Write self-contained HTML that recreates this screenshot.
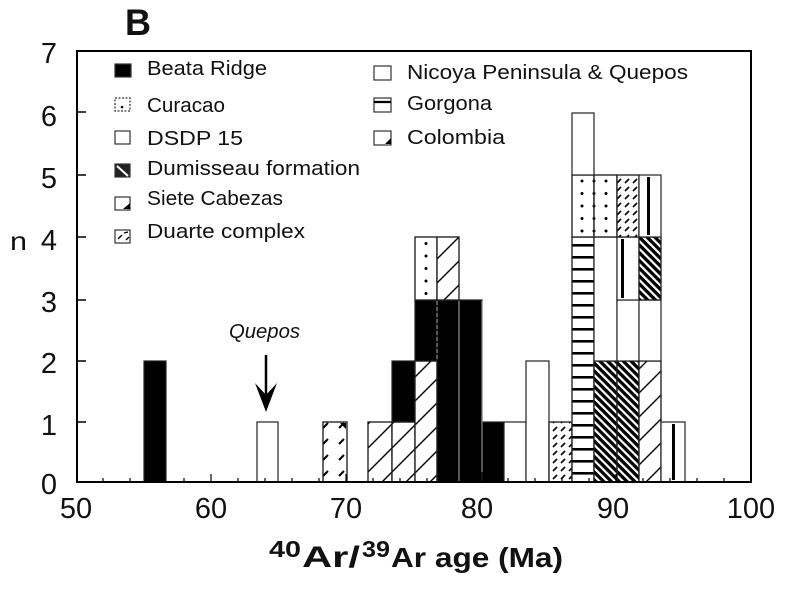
<!DOCTYPE html>
<html><head><meta charset="utf-8"><style>
html,body{margin:0;padding:0;background:#fff;}
svg{display:block;}
text{font-family:"Liberation Sans",Arial,sans-serif;fill:#111;}
</style></head><body>
<svg width="800" height="589" viewBox="0 0 800 589" xmlns="http://www.w3.org/2000/svg">
<defs>
<pattern id="siete" patternUnits="userSpaceOnUse" width="24" height="24">
<path d="M0,24 L24,0 M-6,6 L6,-6 M18,30 L30,18" stroke="#000" stroke-width="1.4"/>
</pattern>
<pattern id="duarte" patternUnits="userSpaceOnUse" width="16" height="16">
<path d="M3,12 L8,7" stroke="#000" stroke-width="2"/>
</pattern>
<pattern id="colom" patternUnits="userSpaceOnUse" width="8" height="8">
<path d="M1,7 L5,3" stroke="#000" stroke-width="1.6"/>
</pattern>
<pattern id="cur" patternUnits="userSpaceOnUse" width="12" height="12.5">
<circle cx="6" cy="6" r="1.5" fill="#000"/>
</pattern>
<pattern id="gor" patternUnits="userSpaceOnUse" width="10" height="12">
<rect x="0" y="4" width="10" height="2.6" fill="#000"/>
</pattern>
<pattern id="dum" patternUnits="userSpaceOnUse" width="5.5" height="5.5" patternTransform="rotate(45)">
<rect x="0" y="0" width="5.5" height="3.3" fill="#000"/>
</pattern>
</defs>

<text x="125" y="35" font-size="37" font-weight="bold" textLength="26" lengthAdjust="spacingAndGlyphs">B</text>

<g stroke="#222" stroke-width="1.2">
<rect x="144" y="361" width="22" height="121" fill="#000"/>
<rect x="257" y="422" width="21" height="60" fill="#fff"/>
<rect x="323" y="422" width="24" height="60" fill="#fff"/>
<rect x="323" y="422" width="24" height="60" fill="url(#duarte)"/>
<rect x="368" y="422" width="24" height="60" fill="#fff"/>
<rect x="368" y="422" width="24" height="60" fill="url(#siete)"/>
<rect x="392" y="422" width="23" height="60" fill="#fff"/>
<rect x="392" y="422" width="23" height="60" fill="url(#siete)"/>
<rect x="392" y="361" width="23" height="61" fill="#000"/>
<rect x="415" y="361" width="22" height="121" fill="#fff"/>
<rect x="415" y="361" width="22" height="121" fill="url(#siete)"/>
<rect x="415" y="300" width="22" height="61" fill="#000"/>
<rect x="415" y="237" width="22" height="63" fill="#fff"/>
<rect x="415" y="237" width="22" height="63" fill="url(#cur)"/>
<rect x="437" y="300" width="22" height="182" fill="#000"/>
<rect x="437" y="237" width="22" height="63" fill="#fff"/>
<rect x="437" y="237" width="22" height="63" fill="url(#siete)"/>
<rect x="459" y="300" width="23" height="182" fill="#000"/>
<rect x="482" y="422" width="22" height="60" fill="#000"/>
<rect x="504" y="422" width="22" height="60" fill="#fff"/>
<rect x="526" y="361" width="23" height="121" fill="#fff"/>
<rect x="549" y="422" width="23" height="60" fill="#fff"/>
<rect x="549" y="422" width="23" height="60" fill="url(#colom)"/>
<rect x="572" y="237" width="22" height="245" fill="#fff"/>
<rect x="572" y="237" width="22" height="245" fill="url(#gor)"/>
<rect x="572" y="175" width="22" height="62" fill="#fff"/>
<rect x="572" y="175" width="22" height="62" fill="url(#cur)"/>
<rect x="572" y="113" width="22" height="62" fill="#fff"/>
<rect x="594" y="361" width="23" height="121" fill="#fff"/>
<rect x="594" y="361" width="23" height="121" fill="url(#dum)"/>
<rect x="594" y="237" width="23" height="124" fill="#fff"/>
<rect x="594" y="175" width="23" height="62" fill="#fff"/>
<rect x="594" y="175" width="23" height="62" fill="url(#cur)"/>
<rect x="617" y="361" width="22" height="121" fill="#fff"/>
<rect x="617" y="361" width="22" height="121" fill="url(#dum)"/>
<rect x="617" y="300" width="22" height="61" fill="#fff"/>
<rect x="617" y="237" width="22" height="63" fill="#fff"/>
<rect x="617" y="175" width="22" height="62" fill="#fff"/>
<rect x="617" y="175" width="22" height="62" fill="url(#colom)"/>
<rect x="639" y="361" width="22" height="121" fill="#fff"/>
<rect x="639" y="361" width="22" height="121" fill="url(#siete)"/>
<rect x="639" y="300" width="22" height="61" fill="#fff"/>
<rect x="639" y="237" width="22" height="63" fill="#fff"/>
<rect x="639" y="237" width="22" height="63" fill="url(#dum)"/>
<rect x="639" y="175" width="22" height="62" fill="#fff"/>
<rect x="661" y="422" width="24" height="60" fill="#fff"/>
</g>
<g stroke="#000" stroke-width="3">
<line x1="622.5" y1="239" x2="622.5" y2="298"/>
<line x1="648.5" y1="177" x2="648.5" y2="235"/>
<line x1="673.5" y1="424" x2="673.5" y2="480"/>
</g>
<g stroke="#8a8a8a" stroke-width="1.2">
<line x1="437" y1="301" x2="437" y2="361" stroke-dasharray="4,2"/>
<line x1="459" y1="301" x2="459" y2="481"/>
<line x1="482" y1="301" x2="482" y2="472"/>
</g>
<path d="M340,423 L346,423 L346,429 Z" fill="#000"/>

<rect x="77" y="51" width="674" height="431" fill="none" stroke="#000" stroke-width="2"/>

<g stroke="#000" stroke-width="1.5">
<line x1="77" y1="422" x2="86" y2="422"/>
<line x1="77" y1="361" x2="86" y2="361"/>
<line x1="77" y1="300" x2="86" y2="300"/>
<line x1="77" y1="237" x2="86" y2="237"/>
<line x1="77" y1="175" x2="86" y2="175"/>
<line x1="77" y1="112" x2="86" y2="112"/>
</g>
<g stroke="#000" stroke-width="1.2">
<path d="M103,482v-4M130,482v-4M157,482v-4M184,482v-4M238,482v-4M265,482v-4M292,482v-4M319,482v-4M373,482v-4M400,482v-4M427,482v-4M454,482v-4M508,482v-4M535,482v-4M562,482v-4M589,482v-4M643,482v-4M670,482v-4M697,482v-4M724,482v-4"/>
<path d="M211,482v-8M346,482v-8M481,482v-8M616,482v-8"/>
</g>

<g font-size="29" text-anchor="end">
<text x="57" y="63">7</text>
<text x="57" y="126">6</text>
<text x="57" y="188">5</text>
<text x="57" y="250">4</text>
<text x="57" y="312">3</text>
<text x="57" y="373">2</text>
<text x="57" y="435">1</text>
<text x="57" y="494">0</text>
</g>
<text x="10" y="250" font-size="26" textLength="17" lengthAdjust="spacingAndGlyphs">n</text>

<g font-size="29" text-anchor="middle">
<text x="76" y="518">50</text>
<text x="211" y="518">60</text>
<text x="346" y="518">70</text>
<text x="477" y="518">80</text>
<text x="613" y="518">90</text>
<text x="751" y="518">100</text>
</g>

<g font-weight="bold">
<text x="269" y="557" font-size="23" textLength="32" lengthAdjust="spacingAndGlyphs">40</text>
<text x="302" y="567" font-size="30" textLength="58" lengthAdjust="spacingAndGlyphs">Ar/</text>
<text x="362" y="557" font-size="23" textLength="28" lengthAdjust="spacingAndGlyphs">39</text>
<text x="391" y="567" font-size="28" textLength="172" lengthAdjust="spacingAndGlyphs">Ar age (Ma)</text>
</g>

<text x="229" y="338" font-size="20" font-style="italic" textLength="71" lengthAdjust="spacingAndGlyphs">Quepos</text>
<line x1="266" y1="355" x2="266" y2="398" stroke="#000" stroke-width="2.5"/>
<polygon points="255,383 266,395 277,383 266,412" fill="#000"/>

<g stroke="#333" stroke-width="1.2">
<rect x="115" y="64" width="16" height="13" fill="#000"/>
<rect x="115" y="98" width="15" height="13" fill="#fff" stroke-dasharray="2,1.5"/>
<rect x="115" y="131" width="15" height="13" fill="#fff"/>
<rect x="115" y="164" width="15" height="13" fill="#222"/>
<rect x="115" y="197" width="15" height="13" fill="#fff"/>
<rect x="115" y="230" width="15" height="13" fill="#fff"/>
<rect x="374" y="66" width="17" height="14" fill="#fff"/>
<rect x="374" y="98" width="17" height="14" fill="#fff"/>
<rect x="374" y="131" width="17" height="14" fill="#fff"/>
</g>
<circle cx="122" cy="107" r="1.3" fill="#000"/>
<path d="M117,166 L128,176" stroke="#fff" stroke-width="2"/>
<path d="M123,209 L130,203 L130,209 Z" fill="#000"/>
<path d="M118,239 L122,235 M124,233 L128,232 M126,240 L129,237" stroke="#000" stroke-width="1.4"/>
<line x1="374" y1="102" x2="391" y2="102" stroke="#000" stroke-width="2.2"/>
<path d="M385,144 L391,138 L391,144 Z" fill="#000"/>

<g font-size="20">
<text x="147" y="75" textLength="120" lengthAdjust="spacingAndGlyphs">Beata Ridge</text>
<text x="147" y="112" textLength="78" lengthAdjust="spacingAndGlyphs">Curacao</text>
<text x="147" y="145" textLength="96" lengthAdjust="spacingAndGlyphs">DSDP 15</text>
<text x="147" y="175" textLength="213" lengthAdjust="spacingAndGlyphs">Dumisseau formation</text>
<text x="147" y="205" textLength="136" lengthAdjust="spacingAndGlyphs">Siete Cabezas</text>
<text x="147" y="238" textLength="158" lengthAdjust="spacingAndGlyphs">Duarte complex</text>
<text x="407" y="79" textLength="281" lengthAdjust="spacingAndGlyphs">Nicoya Peninsula &amp; Quepos</text>
<text x="407" y="110" textLength="85" lengthAdjust="spacingAndGlyphs">Gorgona</text>
<text x="407" y="144" textLength="98" lengthAdjust="spacingAndGlyphs">Colombia</text>
</g>
</svg>
</body></html>
